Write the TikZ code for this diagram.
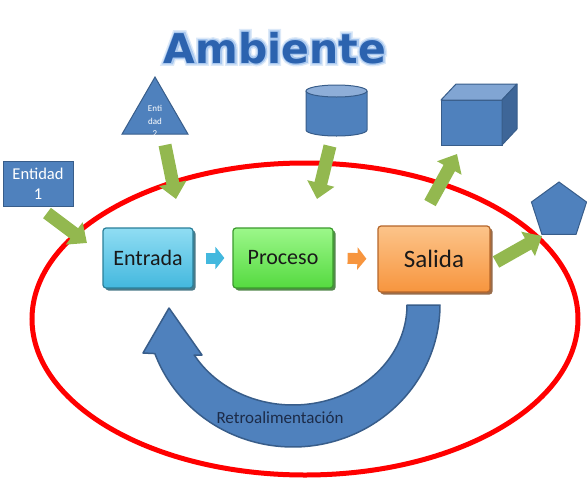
\documentclass[tikz,border=0pt]{standalone}
\usepackage{fontspec}
\setmainfont{Carlito}
\newfontfamily\titlefont{DejaVu Sans Bold}
\newfontfamily\glowfontA{DejaVu Sans Bold}[FakeBold=7]
\newfontfamily\glowfontB{DejaVu Sans Bold}[FakeBold=14]
\usetikzlibrary{arrows.meta,shapes.geometric,calc,shadows}
\definecolor{ofblue}{HTML}{4F81BD}
\definecolor{ofblueD}{HTML}{385D8A}
\definecolor{ofblueL}{HTML}{8EAED8}
\definecolor{ofblueS}{HTML}{3E6698}
\definecolor{grn}{HTML}{93B84F}
\definecolor{cyT}{HTML}{90DDF3}
\definecolor{cyB}{HTML}{43B8DE}
\definecolor{cyE}{HTML}{2A7F99}
\definecolor{gT}{HTML}{9CF78A}
\definecolor{gB}{HTML}{55DA40}
\definecolor{gE}{HTML}{3A9A2C}
\definecolor{oT}{HTML}{FCC48A}
\definecolor{oB}{HTML}{F7953E}
\definecolor{oE}{HTML}{B5662A}
\definecolor{ttl}{HTML}{2C63AF}
\definecolor{glowA}{HTML}{A9C8EF}
\definecolor{glowB}{HTML}{DCE9F8}
\definecolor{navy}{HTML}{1C2B48}
\begin{document}
\begin{tikzpicture}[x=1pt,y=-1pt,
  titlestyle/.style={font=\fontsize{41}{48}\selectfont, anchor=base, inner sep=0pt},
  bluebox/.style={fill=ofblue, draw=ofblueD, line width=1pt, text=white, align=center, inner sep=0pt,
     font=\fontsize{16.5}{20}\selectfont},
  procbox/.style={rounded corners=3pt, line width=1.2pt, inner sep=0pt, text=black!90,
     font=\fontsize{22}{26}\selectfont},
  garrow/.style={draw=grn, line width=13pt, -{Triangle[width=27pt,length=16pt]}},
  sarrow/.style={line width=11pt, -{Triangle[width=22pt,length=9pt]}},
  fb/.style={fill=ofblue, draw=ofblueD, line width=1.5pt, line join=round}
]
\path[use as bounding box] (0,0) rectangle (587,480);

% environment ellipse
\draw[red, line width=5pt] (305,319) ellipse [x radius=273, y radius=156];

% title with glow
\node[titlestyle, text=glowB, font=\glowfontB\fontsize{41}{48}\selectfont] (titleglowB) at (275,63) {Ambiente};
\node[titlestyle, text=glowA, font=\glowfontA\fontsize{41}{48}\selectfont] (titleglowA) at (275,63) {Ambiente};
\node[titlestyle, text=ttl, font=\titlefont\fontsize{41}{48}\selectfont] (title) at (275,63) {Ambiente};

% Entidad 1
\node[bluebox, minimum width=70pt, minimum height=45pt] (e1) at (38,184) {Entidad\\1};

% Entidad 2 (triangle)
\node[regular polygon, regular polygon sides=3, minimum size=76pt, inner sep=0pt,
      fill=ofblue, draw=ofblueD, line width=1pt] (e2) at (155,115) {};
\node[text=white, align=center, inner sep=0pt, font=\fontsize{9}{12.5}\selectfont] (e2t) at (155,121) {Enti\\dad\\2};

% cylinder
\fill[ofblue] (306,91) rectangle (367,130);
\fill[ofblue] (336.5,130) ellipse [x radius=30.5, y radius=6];
\draw[ofblueD, line width=1pt] (306,91) -- (306,130) arc[start angle=180, end angle=0, x radius=30.5, y radius=6] -- (367,91);
\filldraw[fill=ofblueL, draw=ofblueD, line width=1pt] (336.5,91) ellipse [x radius=30.5, y radius=6];
\coordinate (cyl) at (336.5,110);

% cube
\filldraw[fill=ofblue, draw=ofblueD, line width=1pt] (441,100) rectangle (502,145);
\filldraw[fill=ofblueL!80!ofblue, draw=ofblueD, line width=1pt, line join=round] (441,100) -- (456,84) -- (517,84) -- (502,100) -- cycle;
\filldraw[fill=ofblueS, draw=ofblueD, line width=1pt, line join=round] (502,100) -- (517,84) -- (517,129) -- (502,145) -- cycle;
\coordinate (cube) at (472,122);

% pentagon
\node[regular polygon, regular polygon sides=5, minimum size=58pt, inner sep=0pt,
      fill=ofblue, draw=ofblueD, line width=1pt] (pent) at (559,211) {};

% process boxes
\node[procbox, minimum width=90pt, minimum height=60pt, top color=cyT, bottom color=cyB, draw=cyE,
      drop shadow={shadow xshift=2.5pt, shadow yshift=-2.5pt, fill=cyE!70!black, opacity=0.8}] (ent) at (148,258) {Entrada};
\node[procbox, minimum width=100pt, minimum height=60pt, top color=gT, bottom color=gB, draw=gE,
      drop shadow={shadow xshift=2.5pt, shadow yshift=-2.5pt, fill=gE!70!black, opacity=0.8}] (proc) at (283,258) {Proceso};
\node[procbox, minimum width=112pt, minimum height=66pt, top color=oT, bottom color=oB, draw=oE,
      font=\fontsize{25}{28}\selectfont,
      drop shadow={shadow xshift=2.5pt, shadow yshift=-2.5pt, fill=oE!70!black, opacity=0.8}] (sal) at (434,259) {Salida};

% small arrows between boxes
\draw[sarrow, draw=cyB, shorten <=12pt, shorten >=8pt] (ent.east) -- (proc.west);
\draw[sarrow, draw=oB, shorten <=14pt, shorten >=11pt] (proc.east) -- (sal.west);

% green arrows
\coordinate (g1s) at (47,213);  \coordinate (g1e) at (87,243);
\coordinate (g2s) at (165,145); \coordinate (g2e) at (176,199);
\coordinate (g3s) at (330,146); \coordinate (g3e) at (317,199);
\coordinate (g4s) at (430,203); \coordinate (g4e) at (457,154);
\coordinate (g5s) at (496,262); \coordinate (g5e) at (542,236);
\draw[garrow] (g1s) -- (g1e);
\draw[garrow] (g2s) -- (g2e);
\draw[garrow] (g3s) -- (g3e);
\draw[garrow] (g4s) -- (g4e);
\draw[garrow] (g5s) -- (g5e);

% feedback arrow
\filldraw[fb] plot[domain=0:160, samples=50, smooth] ({293+147*cos(\x)},{305+142*sin(\x)})
   -- (143,353) -- (169,308) -- (202,355) -- (194,355)
   -- plot[domain=150:0, samples=50, smooth] ({293+114*cos(\x)},{305+100*sin(\x)}) -- cycle;
\node[anchor=base, inner sep=0pt, text=navy, font=\fontsize{17}{20}\selectfont] (fbt) at (280,423) {Retroalimentación};
\end{tikzpicture}
\end{document}
